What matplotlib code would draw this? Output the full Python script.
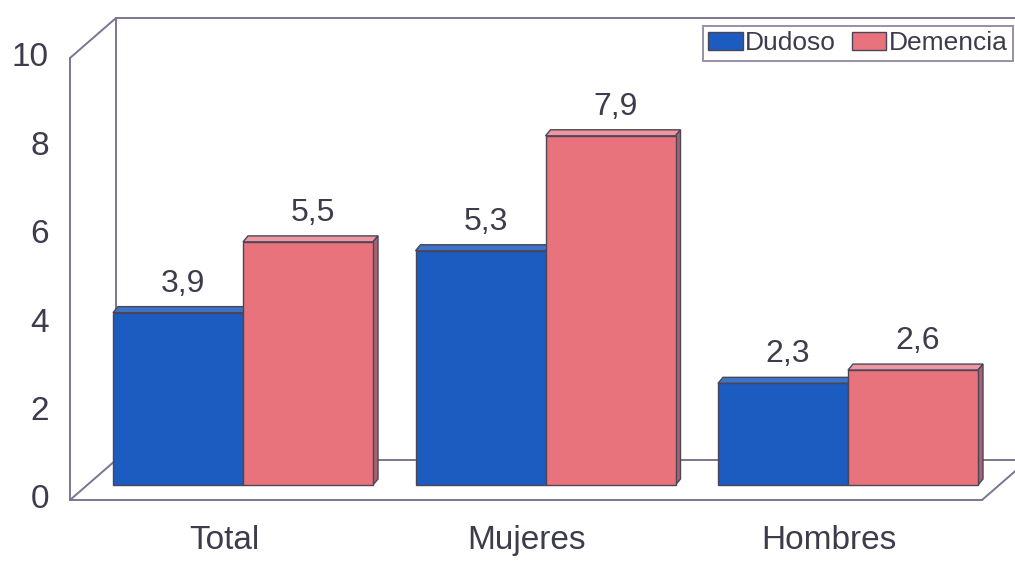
import matplotlib
matplotlib.use("Agg")
import matplotlib.pyplot as plt
from matplotlib.patches import Polygon, Patch

# Datos del grafico
categorias = ["Total", "Mujeres", "Hombres"]
dudoso = [3.9, 5.3, 2.3]
demencia = [5.5, 7.9, 2.6]
series = ["Dudoso", "Demencia"]
ticks_y = [0, 2, 4, 6, 8, 10]

# Colores (cara frontal, cara superior, cara lateral)
AZUL = ("#1c5bbf", "#3d74c9", "#17458f")
ROJO = ("#e8737c", "#ee97a0", "#a8646e")
BORDE = "#4b4558"
MARCO = "#7d7490"
TEXTO = "#3c3c4c"

W, H = 1015, 562
plt.rcParams['font.family'] = ['Liberation Sans', 'DejaVu Sans']
fig = plt.figure(figsize=(W / 100, H / 100), dpi=100)

# escala: pixeles por categoria y por unidad
PX_X, PX_Y = 302.5, 44.2
X0, BASE = 243, 485
ax = fig.add_axes([0, 0, 1, 1])
ax.set_xlim(-X0 / PX_X, (W - X0) / PX_X)
ax.set_ylim(-(H - BASE) / PX_Y, BASE / PX_Y)
ax.axis("off")


def dx(px):
    return px / PX_X


def dy(px):
    return px / PX_Y


# ---- marco en perspectiva ----
xb, yb = dx(116 - X0), dy(25)      # esquina trasera
xf, yf = dx(70 - X0), dy(-15)      # esquina frontal
xr = dx(982 - X0)                  # fin del piso frontal
xr_b = xr + (xb - xf)
tope = ticks_y[-1]
lw = 1.4
kw = dict(color=MARCO, lw=lw, clip_on=False, zorder=1, solid_capstyle="round")
ax.plot([xb, xb], [yb, tope + yb], **kw)
ax.plot([xb, xr_b + 1], [tope + yb, tope + yb], **kw)
ax.plot([xb, xr_b], [yb, yb], **kw)
ax.plot([xf, xf], [yf, tope + yf], **kw)
ax.plot([xf, xb], [tope + yf, tope + yb], **kw)
ax.plot([xf, xb], [yf, yb], **kw)
ax.plot([xf, xr], [yf, yf], **kw)
ax.plot([xr, xr_b], [yf, yb], **kw)

for t in ticks_y:
    ax.text(xf - dx(21), t + yf, str(t), ha="right", va="center",
            fontsize=24, color=TEXTO)

# ---- barras 3D ----
ancho = dx(130)
prof_x, prof_y = dx(5), dy(6)


def barra_3d(x, v, colores, z):
    frente, arriba, lado = colores
    ax.bar(x, v, width=ancho, align="edge", color=frente,
           edgecolor=BORDE, linewidth=1, zorder=z + 0.2)
    ax.add_patch(Polygon([(x, v), (x + ancho, v),
                          (x + ancho + prof_x, v + prof_y), (x + prof_x, v + prof_y)],
                         closed=True, facecolor=arriba, edgecolor=BORDE,
                         linewidth=1, zorder=z))
    ax.add_patch(Polygon([(x + ancho, 0), (x + ancho + prof_x, prof_y),
                          (x + ancho + prof_x, v + prof_y), (x + ancho, v)],
                         closed=True, facecolor=lado, edgecolor=BORDE,
                         linewidth=1, zorder=z))


for i, cat in enumerate(categorias):
    barra_3d(i - ancho, dudoso[i], AZUL, 2)
    barra_3d(i, demencia[i], ROJO, 3)
    for x, v in [(i - ancho, dudoso[i]), (i, demencia[i])]:
        ax.text(x + ancho / 2 + dx(5), v + dy(21), f"{v:.1f}".replace(".", ","),
                ha="center", va="baseline", fontsize=23, color=TEXTO)
    ax.text(i - dx(19), -dy(64), cat, ha="center", va="baseline",
            fontsize=24, color=TEXTO)

# ---- leyenda ----
handles = [Patch(facecolor=AZUL[0], edgecolor=BORDE, linewidth=1),
           Patch(facecolor=ROJO[0], edgecolor=BORDE, linewidth=1)]
leg = ax.legend(handles, series, loc="upper right",
                bbox_to_anchor=(1013 / W, 1 - 26 / H), bbox_transform=fig.transFigure,
                ncol=2, fontsize=19, frameon=True, fancybox=False,
                borderaxespad=0, borderpad=0.2, handlelength=1.3,
                handleheight=0.7, handletextpad=0.1, columnspacing=0.6)
leg.get_frame().set_edgecolor(MARCO)
leg.get_frame().set_linewidth(1.4)
for t in leg.get_texts():
    t.set_color(TEXTO)

fig.savefig("out.png", dpi=100, facecolor="white")
